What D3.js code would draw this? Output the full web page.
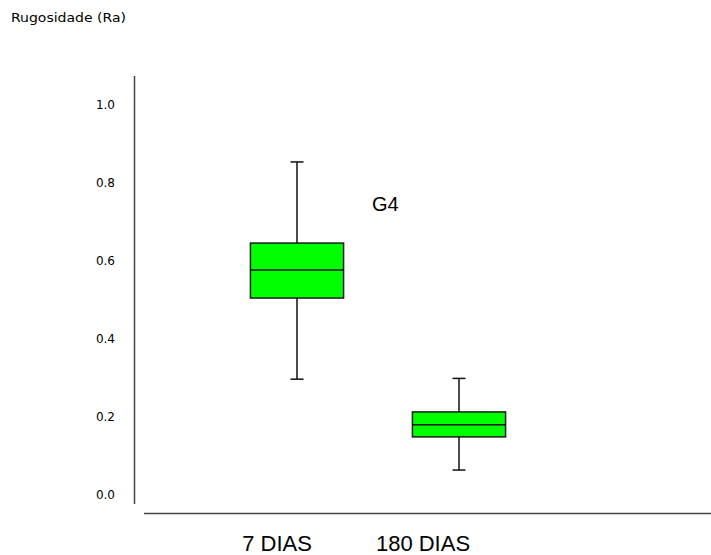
<!DOCTYPE html>
<html lang="en">
<head>
    <meta charset="utf-8">
    <title>Rugosidade G4</title>
    <script src="https://cdn.jsdelivr.net/npm/d3@7"></script>
    <style type="text/css">
        body { margin: 0; background: #fff; }
    </style>
</head>
<body>
<script type="text/javascript">

    // data
    var categories = ["7 DIAS", "180 DIAS"];
    var whisker_low = [0.297, 0.064];
    var q1 = [0.505, 0.149];
    var median = [0.577, 0.180];
    var q3 = [0.646, 0.213];
    var whisker_high = [0.854, 0.299];
    var y_ticks = [0.0, 0.2, 0.4, 0.6, 0.8, 1.0];
    var group_label = "G4";
    var y_title = "Rugosidade (Ra)";

    var w = 711;
    var h = 555;

    var svg = d3.select("body")
        .append("svg")
        .attr("width", w)
        .attr("height", h);

    var yScale = d3.scaleLinear()
        .domain([0, 1])
        .range([495, 105]);

    var xScale = d3.scaleBand()
        .domain(categories)
        .range([216, 540]);

    var box_w = xScale.bandwidth() * 0.575;
    var cap_w = 13;

    var boxes = categories.map(function(c, i) {
        return { cat: c, lo: whisker_low[i], q1: q1[i], med: median[i], q3: q3[i], hi: whisker_high[i] };
    });

    function cx(d) {
        return xScale(d.cat) + xScale.bandwidth() / 2;
    }

    // title
    svg.append("text")
        .attr("x", 11)
        .attr("y", 22)
        .attr("font-family", "DejaVu Sans")
        .attr("font-size", 13)
        .attr("textLength", 115)
        .attr("lengthAdjust", "spacingAndGlyphs")
        .attr("fill", "#000")
        .text(y_title);

    // y axis line
    svg.append("line")
        .attr("x1", 134.5).attr("x2", 134.5)
        .attr("y1", 76).attr("y2", 504)
        .attr("stroke", "#444")
        .attr("stroke-width", 1.5);

    // x axis line
    svg.append("line")
        .attr("x1", 144).attr("x2", 711)
        .attr("y1", 513.5).attr("y2", 513.5)
        .attr("stroke", "#444")
        .attr("stroke-width", 1.5);

    // y tick labels
    svg.selectAll("text.ytick")
        .data(y_ticks)
        .enter()
        .append("text")
        .attr("class", "ytick")
        .attr("x", 115)
        .attr("y", function(d) { return yScale(d); })
        .attr("dy", "0.36em")
        .attr("text-anchor", "end")
        .attr("font-family", "DejaVu Sans")
        .attr("font-size", 12)
        .attr("fill", "#000")
        .text(d3.format(".1f"));

    // category labels (sit a bit left of the boxes in the original)
    var label_shift = [-20, -36];
    svg.selectAll("text.xlab")
        .data(boxes)
        .enter()
        .append("text")
        .attr("class", "xlab")
        .attr("x", function(d, i) { return cx(d) + label_shift[i]; })
        .attr("y", 551)
        .attr("text-anchor", "middle")
        .attr("font-family", "Liberation Sans, Arial")
        .attr("font-size", 22)
        .attr("fill", "#000")
        .text(function(d) { return d.cat; });

    var g = svg.selectAll("g.box")
        .data(boxes)
        .enter()
        .append("g")
        .attr("class", "box");

    // whiskers
    g.append("line")
        .attr("x1", cx).attr("x2", cx)
        .attr("y1", function(d) { return yScale(d.hi); })
        .attr("y2", function(d) { return yScale(d.lo); })
        .attr("stroke", "#111")
        .attr("stroke-width", 1.5);

    g.append("line")
        .attr("x1", function(d) { return cx(d) - cap_w / 2; })
        .attr("x2", function(d) { return cx(d) + cap_w / 2; })
        .attr("y1", function(d) { return yScale(d.hi); })
        .attr("y2", function(d) { return yScale(d.hi); })
        .attr("stroke", "#111")
        .attr("stroke-width", 1.5);

    g.append("line")
        .attr("x1", function(d) { return cx(d) - cap_w / 2; })
        .attr("x2", function(d) { return cx(d) + cap_w / 2; })
        .attr("y1", function(d) { return yScale(d.lo); })
        .attr("y2", function(d) { return yScale(d.lo); })
        .attr("stroke", "#111")
        .attr("stroke-width", 1.5);

    // box
    g.append("rect")
        .attr("x", function(d) { return cx(d) - box_w / 2; })
        .attr("y", function(d) { return yScale(d.q3); })
        .attr("width", box_w)
        .attr("height", function(d) { return yScale(d.q1) - yScale(d.q3); })
        .attr("fill", "#00ff00")
        .attr("stroke", "#1a1a1a")
        .attr("stroke-width", 1.5);

    // median
    g.append("line")
        .attr("x1", function(d) { return cx(d) - box_w / 2; })
        .attr("x2", function(d) { return cx(d) + box_w / 2; })
        .attr("y1", function(d) { return yScale(d.med); })
        .attr("y2", function(d) { return yScale(d.med); })
        .attr("stroke", "#111")
        .attr("stroke-width", 1.5);

    // group label
    svg.append("text")
        .attr("x", 372)
        .attr("y", 211)
        .attr("font-family", "Liberation Sans, Arial")
        .attr("font-size", 20)
        .attr("fill", "#000")
        .text(group_label);

</script>
</body>
</html>
